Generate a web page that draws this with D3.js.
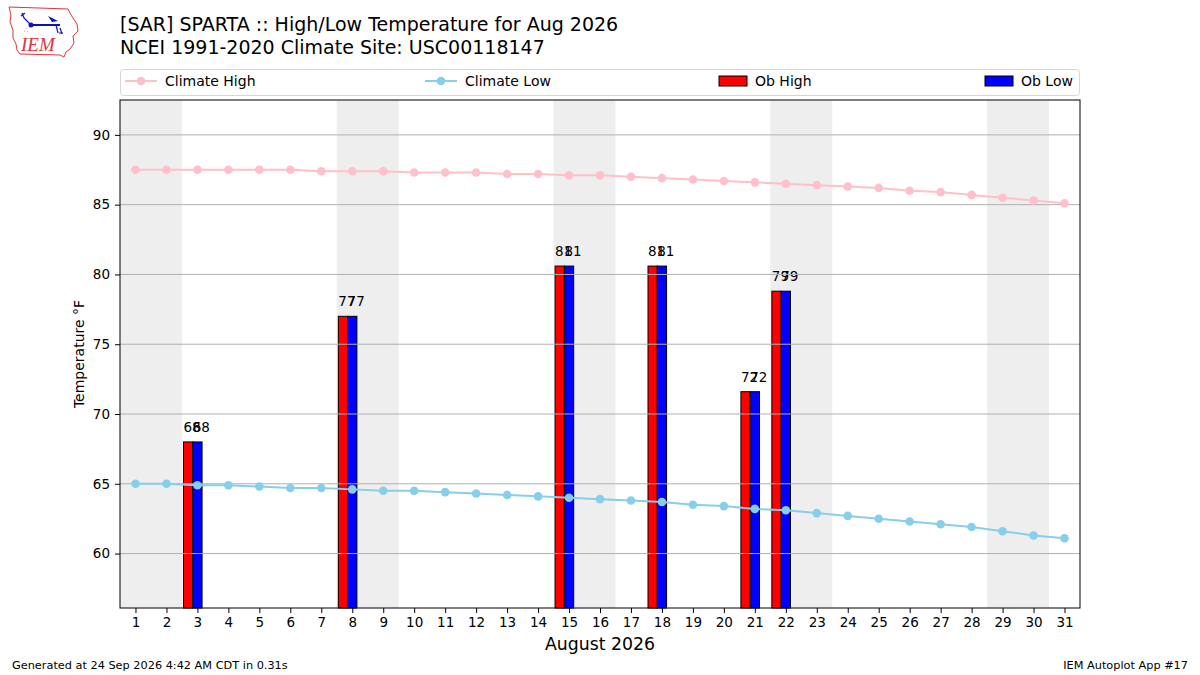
<!DOCTYPE html>
<html>
<head>
<meta charset="utf-8">
<script src="https://cdn.jsdelivr.net/npm/d3@7"></script>
<style>
  body { margin: 0; background: #fff; }
  svg { font-family: "DejaVu Sans", sans-serif; }
</style>
</head>
<body>
<div id="chart"></div>
<script>
// data
var days = [1,2,3,4,5,6,7,8,9,10,11,12,13,14,15,16,17,18,19,20,21,22,23,24,25,26,27,28,29,30,31];
var climateHigh = [87.5,87.5,87.5,87.5,87.5,87.5,87.4,87.4,87.4,87.3,87.3,87.3,87.2,87.2,87.1,
                   87.1,87.0,86.9,86.8,86.7,86.6,86.5,86.4,86.3,86.2,86.0,85.9,85.7,85.5,85.3,85.1];
var climateLow = [65.0,65.0,64.9,64.9,64.8,64.7,64.7,64.6,64.5,64.5,64.4,64.3,64.2,64.1,64.0,
                  63.9,63.8,63.7,63.5,63.4,63.2,63.1,62.9,62.7,62.5,62.3,62.1,61.9,61.6,61.3,61.1];
var obDays = [3, 8, 15, 18, 21, 22];
var obHigh = [68, 77, 80.6, 80.6, 71.6, 78.8];
var obLow  = [68, 77, 80.6, 80.6, 71.6, 78.8];
var weekends = [[1,2],[8,9],[15,16],[22,23],[29,30]];
var yTicks = [60, 65, 70, 75, 80, 85, 90];

var W = 1200, H = 675;
var margin = { top: 100, right: 120, bottom: 67, left: 120 };
var width = W - margin.left - margin.right;
var height = H - margin.top - margin.bottom;

var svg = d3.select("#chart").append("svg")
    .attr("width", W).attr("height", H);

var x = d3.scaleLinear().domain([0.5, 31.5]).range([0, width]);
var y = d3.scaleLinear().domain([56.1, 92.5]).range([height, 0]);

var g = svg.append("g").attr("transform", `translate(${margin.left},${margin.top})`);

// weekend shading
g.append("g").selectAll("rect")
  .data(weekends)
  .join("rect")
  .attr("x", d => x(d[0] - 0.5))
  .attr("width", d => x(d[1] + 0.5) - x(d[0] - 0.5))
  .attr("y", 0)
  .attr("height", height)
  .attr("fill", "#eeeeee");

// observed bars
var obs = obDays.map((d, i) => ({ day: d, high: obHigh[i], low: obLow[i] }));
var bw = x(0.3) - x(0);
var bars = g.append("g");
bars.selectAll(".hi")
  .data(obs).join("rect")
  .attr("class", "hi")
  .attr("x", d => x(d.day - 0.45))
  .attr("width", bw)
  .attr("y", d => y(d.high))
  .attr("height", d => height - y(d.high))
  .attr("fill", "#ff0000").attr("stroke", "#000").attr("stroke-width", 1);
bars.selectAll(".lo")
  .data(obs).join("rect")
  .attr("class", "lo")
  .attr("x", d => x(d.day - 0.15))
  .attr("width", bw)
  .attr("y", d => y(d.low))
  .attr("height", d => height - y(d.low))
  .attr("fill", "#0000ff").attr("stroke", "#000").attr("stroke-width", 1);

// grid over the bars
g.append("g").selectAll("line")
  .data(yTicks).join("line")
  .attr("x1", 0).attr("x2", width)
  .attr("y1", d => y(d)).attr("y2", d => y(d))
  .attr("stroke", "#b0b0b0").attr("stroke-width", 1);

// bar labels, high and low written on top of each other
bars.selectAll(".hit")
  .data(obs).join("text")
  .attr("x", d => x(d.day - 0.45))
  .attr("y", d => y(d.high) - 10)
  .attr("font-size", 13.5).attr("fill", "#000")
  .text(d => d3.format(".0f")(d.high));
bars.selectAll(".lot")
  .data(obs).join("text")
  .attr("x", d => x(d.day - 0.15))
  .attr("y", d => y(d.low) - 10)
  .attr("font-size", 13.5).attr("fill", "#000")
  .text(d => d3.format(".0f")(d.low));

// climate lines
function drawClimate(vals, color) {
  var line = d3.line().x((d, i) => x(days[i])).y(d => y(d));
  g.append("path").datum(vals)
    .attr("d", line).attr("fill", "none")
    .attr("stroke", color).attr("stroke-width", 2);
  g.append("g").selectAll("circle")
    .data(vals).join("circle")
    .attr("cx", (d, i) => x(days[i])).attr("cy", d => y(d))
    .attr("r", 4.3).attr("fill", color);
}
drawClimate(climateHigh, "#ffc0cb");
drawClimate(climateLow, "#87ceeb");

// axes
var xAxis = g.append("g").attr("transform", `translate(0,${height})`)
  .call(d3.axisBottom(x).tickValues(days).tickSize(5).tickPadding(4).tickFormat(d3.format("d")));
var yAxis = g.append("g")
  .call(d3.axisLeft(y).tickValues(yTicks).tickSize(5).tickPadding(5));
[xAxis, yAxis].forEach(a => {
  a.select(".domain").remove();
  a.selectAll("text").attr("font-size", 13.5).attr("fill", "#000").attr("font-family", "DejaVu Sans");
  a.selectAll("line").attr("stroke", "#000");
});
g.append("rect")
  .attr("width", width).attr("height", height)
  .attr("fill", "none").attr("stroke", "#000").attr("stroke-width", 1);

svg.append("text")
  .attr("transform", `translate(84,${margin.top + height / 2}) rotate(-90)`)
  .attr("text-anchor", "middle").attr("font-size", 14)
  .text("Temperature °F");
svg.append("text")
  .attr("x", margin.left + width / 2).attr("y", 650)
  .attr("text-anchor", "middle").attr("font-size", 17.3)
  .text("August 2026");

// titles
svg.append("text").attr("x", 120).attr("y", 31).attr("font-size", 19)
  .text("[SAR] SPARTA :: High/Low Temperature for Aug 2026");
svg.append("text").attr("x", 120).attr("y", 54).attr("font-size", 19)
  .text("NCEI 1991-2020 Climate Site: USC00118147");

// legend
var lg = svg.append("g");
lg.append("rect").attr("x", 120.5).attr("y", 69.5).attr("width", 959).attr("height", 26)
  .attr("rx", 3).attr("fill", "#fff").attr("stroke", "#d6d6d6");
var legendItems = [
  { label: "Climate High", type: "line", color: "#ffc0cb", x: 125 },
  { label: "Climate Low", type: "line", color: "#87ceeb", x: 425 },
  { label: "Ob High", type: "rect", color: "#ff0000", x: 719 },
  { label: "Ob Low", type: "rect", color: "#0000ff", x: 985 }
];
legendItems.forEach(it => {
  if (it.type === "line") {
    lg.append("line").attr("x1", it.x).attr("x2", it.x + 32).attr("y1", 81).attr("y2", 81)
      .attr("stroke", it.color).attr("stroke-width", 2);
    lg.append("circle").attr("cx", it.x + 16).attr("cy", 81).attr("r", 4.3).attr("fill", it.color);
  } else {
    lg.append("rect").attr("x", it.x).attr("y", 76).attr("width", 28).attr("height", 10)
      .attr("fill", it.color).attr("stroke", "#000").attr("stroke-width", 1);
  }
  lg.append("text").attr("x", it.x + (it.type === "line" ? 40 : 36)).attr("y", 86)
    .attr("font-size", 14).text(it.label);
});

// footer
svg.append("text").attr("x", 12).attr("y", 669).attr("font-size", 11.3).text("Generated at 24 Sep 2026 4:42 AM CDT in 0.31s");
svg.append("text").attr("x", 1188).attr("y", 669).attr("font-size", 11.3).attr("text-anchor", "end").text("IEM Autoplot App #17");

// IEM logo
var logo = svg.append("g");
logo.append("path")
  .attr("d", "M9,7 L68,9 L71,15 L77,24 L78,31 L73,36 L74,43 L70,49 L66,52 L64,57 L60,55 L20,54 L17,50 L16,44 L13,38 L13,30 L10,22 L11,15 Z")
  .attr("fill", "none").attr("stroke", "#e0323c").attr("stroke-width", 1);
logo.append("line").attr("x1", 30).attr("x2", 60).attr("y1", 25).attr("y2", 25).attr("stroke", "#1010c0").attr("stroke-width", 2);
logo.append("circle").attr("cx", 31).attr("cy", 25).attr("r", 2.5).attr("fill", "#1010c0");
logo.append("path").attr("d", "M22,13 L24,18 L30,24 M21,16 L25,13").attr("fill", "none").attr("stroke", "#1010c0").attr("stroke-width", 1.3);
logo.append("path").attr("d", "M48,16 L58,21 L52,22 Z").attr("fill", "#1010c0");
logo.append("path").attr("d", "M56,25 L58,33 M60,28 L62,34 M59,33 L63,33").attr("fill", "none").attr("stroke", "#1010c0").attr("stroke-width", 1.2);
logo.append("text").attr("x", 24).attr("y", 32).attr("font-size", 6).attr("fill", "#1010c0").text("∴");
logo.append("text").attr("x", 21).attr("y", 51).attr("font-size", 19)
  .attr("font-family", "Liberation Serif, serif").attr("font-style", "italic")
  .attr("fill", "#e0323c").text("IEM");
</script>
</body>
</html>
